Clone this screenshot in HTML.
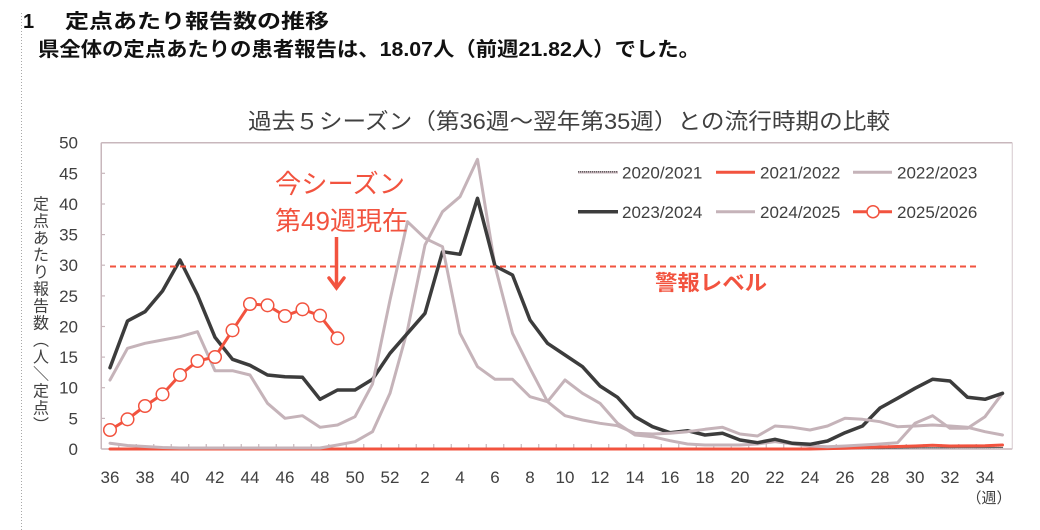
<!DOCTYPE html>
<html lang="ja">
<head>
<meta charset="utf-8">
<style>
  html,body{margin:0;padding:0;background:#fff;}
  body{width:1040px;height:530px;overflow:hidden;}
  svg{display:block;}
  text{font-family:"Liberation Sans","Noto Sans CJK JP",sans-serif;}
</style>
</head>
<body>
<svg width="1040" height="530" viewBox="0 0 1040 530" xmlns="http://www.w3.org/2000/svg">
  <rect x="0" y="0" width="1040" height="530" fill="#ffffff"/>
  <!-- left dotted margin line -->
  <line x1="21.5" y1="13" x2="21.5" y2="530" stroke="#a8a8a8" stroke-width="1" stroke-dasharray="1,2"/>

  <!-- header -->
  <text x="23" y="28" font-size="20" font-weight="bold" fill="#111">1</text>
  <text x="65" y="28" font-size="20" font-weight="bold" fill="#111" textLength="264" lengthAdjust="spacingAndGlyphs">定点あたり報告数の推移</text>
  <text x="38" y="56" font-size="20" font-weight="bold" fill="#111" textLength="662" lengthAdjust="spacingAndGlyphs">県全体の定点あたりの患者報告は、18.07人（前週21.82人）でした。</text>

  <!-- chart title -->
  <text x="248" y="129" font-size="22" fill="#404040" textLength="642" lengthAdjust="spacingAndGlyphs">過去５シーズン（第36週～翌年第35週）との流行時期の比較</text>

  <!-- plot frame -->
  <line x1="101.25" y1="142.7" x2="1012.25" y2="142.7" stroke="#c8b7bc" stroke-width="1.5"/>
  <line x1="101.25" y1="142.7" x2="101.25" y2="449" stroke="#c8b7bc" stroke-width="1.5"/>
  <line x1="101.25" y1="449" x2="1012.25" y2="449" stroke="#c8b7bc" stroke-width="1.5"/>
  <line x1="1012.25" y1="142.7" x2="1012.25" y2="449" stroke="#d6c9cd" stroke-width="1"/>

  <!-- y ticks -->
  <g stroke="#c8b7bc" stroke-width="1.2">
    <line x1="101" y1="418.4" x2="105" y2="418.4"/>
    <line x1="101" y1="387.7" x2="105" y2="387.7"/>
    <line x1="101" y1="357.1" x2="105" y2="357.1"/>
    <line x1="101" y1="326.5" x2="105" y2="326.5"/>
    <line x1="101" y1="295.9" x2="105" y2="295.9"/>
    <line x1="101" y1="265.2" x2="105" y2="265.2"/>
    <line x1="101" y1="234.6" x2="105" y2="234.6"/>
    <line x1="101" y1="204.0" x2="105" y2="204.0"/>
    <line x1="101" y1="173.3" x2="105" y2="173.3"/>
  </g>

  <!-- y labels -->
  <g font-size="17" fill="#404040" text-anchor="end">
    <text x="78" y="455">0</text>
    <text x="78" y="424.4">5</text>
    <text x="78" y="393.7">10</text>
    <text x="78" y="363.1">15</text>
    <text x="78" y="332.5">20</text>
    <text x="78" y="301.9">25</text>
    <text x="78" y="271.2">30</text>
    <text x="78" y="240.6">35</text>
    <text x="78" y="210">40</text>
    <text x="78" y="179.3">45</text>
    <text x="78" y="148.7">50</text>
  </g>

  <!-- y axis title (vertical) -->
  <g font-size="16" fill="#404040" text-anchor="middle">
    <text x="41" y="209.5">定</text>
    <text x="41" y="226.5">点</text>
    <text x="41" y="243.5">あ</text>
    <text x="41" y="260.5">た</text>
    <text x="41" y="277.5">り</text>
    <text x="41" y="294.5">報</text>
    <text x="41" y="311.5">告</text>
    <text x="41" y="328.5">数</text>
    <text x="41" y="345.5">︵</text>
    <text x="41" y="362.5">人</text>
    <text x="41" y="379.5" transform="rotate(90 41 373.5)">／</text>
    <text x="41" y="396.5">定</text>
    <text x="41" y="413.5">点</text>
    <text x="41" y="430.5">︶</text>
  </g>

  <!-- x ticks -->
  <g stroke="#c8b7bc" stroke-width="1.2">
    <path d="M118.75 449v-5M136.25 449v-5M153.75 449v-5M171.25 449v-5M188.75 449v-5M206.25 449v-5M223.75 449v-5M241.25 449v-5M258.75 449v-5M276.25 449v-5M293.75 449v-5M311.25 449v-5M328.75 449v-5M346.25 449v-5M363.75 449v-5M381.25 449v-5M398.75 449v-5M416.25 449v-5M433.75 449v-5M451.25 449v-5M468.75 449v-5M486.25 449v-5M503.75 449v-5M521.25 449v-5M538.75 449v-5M556.25 449v-5M573.75 449v-5M591.25 449v-5M608.75 449v-5M626.25 449v-5M643.75 449v-5M661.25 449v-5M678.75 449v-5M696.25 449v-5M713.75 449v-5M731.25 449v-5M748.75 449v-5M766.25 449v-5M783.75 449v-5M801.25 449v-5M818.75 449v-5M836.25 449v-5M853.75 449v-5M871.25 449v-5M888.75 449v-5M906.25 449v-5M923.75 449v-5M941.25 449v-5M958.75 449v-5M976.25 449v-5M993.75 449v-5"/>
  </g>

  <!-- x labels -->
  <g font-size="17" fill="#404040" text-anchor="middle">
    <text x="110" y="483">36</text>
    <text x="145" y="483">38</text>
    <text x="180" y="483">40</text>
    <text x="215" y="483">42</text>
    <text x="250" y="483">44</text>
    <text x="285" y="483">46</text>
    <text x="320" y="483">48</text>
    <text x="355" y="483">50</text>
    <text x="390" y="483">52</text>
    <text x="425" y="483">2</text>
    <text x="460" y="483">4</text>
    <text x="495" y="483">6</text>
    <text x="530" y="483">8</text>
    <text x="565" y="483">10</text>
    <text x="600" y="483">12</text>
    <text x="635" y="483">14</text>
    <text x="670" y="483">16</text>
    <text x="705" y="483">18</text>
    <text x="740" y="483">20</text>
    <text x="775" y="483">22</text>
    <text x="810" y="483">24</text>
    <text x="845" y="483">26</text>
    <text x="880" y="483">28</text>
    <text x="915" y="483">30</text>
    <text x="950" y="483">32</text>
    <text x="985" y="483">34</text>
  </g>
  <text x="989" y="503" font-size="15" fill="#404040" text-anchor="middle">（週）</text>

  <!-- series -->
  <g fill="none" stroke-linejoin="round" stroke-linecap="round">
    <!-- 2020/2021 -->
    <polyline stroke="#666" stroke-width="1.3" stroke-dasharray="1,1" points="110,448.5 880,448.5 915,447.8 1002.5,447.5"/>
    <!-- 2021/2022 -->
    <polyline stroke="#f2533f" stroke-width="3" points="110,449 810,449 845,448.2 880,447 915,446 932.5,445.3 950,446 985,445.8 1002.5,445"/>
    <!-- 2022/2023 -->
    <polyline stroke="#c5b3b9" stroke-width="3" points="110,443.3 127.5,445.5 145,446.5 162.5,447.5 180,448 320,448 337.5,445 355,441.7 372.5,431.7 390,393.3 407.5,330 425,245 442.5,211.7 460,196.7 477.5,159.3 495,266 512.5,333.3 530,368.3 547.5,401.7 565,380 582.5,393.3 600,403.3 617.5,423.3 635,435 652.5,436.7 670,440.7 687.5,444 705,445 722.5,445 740,445 757.5,444 775,441.7 792.5,444 810,446 827.5,446.7 845,446 862.5,445 880,444 897.5,442.7 915,423.3 932.5,415.7 950,428.3 967.5,428.3 985,416.7 1002.5,393.3"/>
    <!-- 2023/2024 -->
    <polyline stroke="#3c3c3c" stroke-width="3.5" points="110,367.7 127.5,321 145,311.7 162.5,291 180,260 197.5,295 215,337.3 232.5,359.3 250,365.3 267.5,375 285,376.7 302.5,377.3 320,399.3 337.5,390 355,390 372.5,379.3 390,353.3 407.5,333.3 425,313.3 442.5,251.7 460,254.3 477.5,198.3 495,266 512.5,275 530,320 547.5,343.3 565,355 582.5,366.7 600,386 617.5,397.3 635,416.7 652.5,426.7 670,432.7 687.5,430.7 705,435 722.5,433.3 740,440 757.5,442.7 775,439.3 792.5,443.3 810,444.3 827.5,441 845,432.7 862.5,426 880,408 897.5,398.3 915,388.3 932.5,379.3 950,381 967.5,397.3 985,399.3 1002.5,393.3"/>
    <!-- 2024/2025 -->
    <polyline stroke="#c5b3b9" stroke-width="3" points="110,380 127.5,348.3 145,343.3 162.5,340 180,336.7 197.5,331.7 215,370.7 232.5,370.7 250,375 267.5,403.3 285,418.3 302.5,415.7 320,427.3 337.5,425 355,416.7 372.5,384 390,300 407.5,221.7 425,238.3 442.5,246.7 460,333.3 477.5,366.7 495,379.3 512.5,379.3 530,396.7 547.5,401.7 565,415.7 582.5,420 600,423.3 617.5,425.7 635,433.3 652.5,434 670,433.3 687.5,431.7 705,429.3 722.5,427.3 740,434 757.5,436 775,426 792.5,427.3 810,430 827.5,426 845,418.3 862.5,419.3 880,421.7 897.5,426.7 915,426 932.5,425 950,426 967.5,427.3 985,431.7 1002.5,435"/>
  </g>

  <!-- alert level dashed line -->
  <line x1="110" y1="266.5" x2="980" y2="266.5" stroke="#f2533f" stroke-width="2" stroke-dasharray="6,4"/>
  <text x="655" y="290" font-size="21" font-weight="bold" fill="#f2533f" textLength="112" lengthAdjust="spacingAndGlyphs">警報レベル</text>

  <!-- 2025/2026 -->
  <polyline fill="none" stroke="#f2533f" stroke-width="3" stroke-linejoin="round" points="110,430 127.5,419.3 145,406 162.5,394.3 180,375 197.5,361 215,357 232.5,330.3 250,304 267.5,305.3 285,316 302.5,309.3 320,315.7 337.5,338.3"/>
  <g fill="#ffffff" stroke="#f2533f" stroke-width="1.5">
    <circle cx="110" cy="430" r="6.3"/>
    <circle cx="127.5" cy="419.3" r="6.3"/>
    <circle cx="145" cy="406" r="6.3"/>
    <circle cx="162.5" cy="394.3" r="6.3"/>
    <circle cx="180" cy="375" r="6.3"/>
    <circle cx="197.5" cy="361" r="6.3"/>
    <circle cx="215" cy="357" r="6.3"/>
    <circle cx="232.5" cy="330.3" r="6.3"/>
    <circle cx="250" cy="304" r="6.3"/>
    <circle cx="267.5" cy="305.3" r="6.3"/>
    <circle cx="285" cy="316" r="6.3"/>
    <circle cx="302.5" cy="309.3" r="6.3"/>
    <circle cx="320" cy="315.7" r="6.3"/>
    <circle cx="337.5" cy="338.3" r="6.3"/>
  </g>

  <!-- annotation -->
  <text x="275" y="193" font-size="26" fill="#f2533f" textLength="130" lengthAdjust="spacingAndGlyphs">今シーズン</text>
  <text x="275" y="230" font-size="26" fill="#f2533f" textLength="133" lengthAdjust="spacingAndGlyphs">第49週現在</text>
  <line x1="336.5" y1="237" x2="336.5" y2="286" stroke="#f2533f" stroke-width="3.5"/>
  <polyline points="329,278 336.5,288 344,278" fill="none" stroke="#f2533f" stroke-width="3.5" stroke-linecap="round" stroke-linejoin="miter"/>

  <!-- legend -->
  <g fill="none">
    <line x1="578" y1="172.3" x2="618" y2="172.3" stroke="#c5b3b9" stroke-width="2.5"/>
    <line x1="578" y1="171.8" x2="618" y2="171.8" stroke="#555" stroke-width="1.3" stroke-dasharray="1,1"/>
    <line x1="716" y1="172.3" x2="755" y2="172.3" stroke="#f2533f" stroke-width="3"/>
    <line x1="853" y1="172.3" x2="892" y2="172.3" stroke="#c5b3b9" stroke-width="3"/>
    <line x1="578" y1="211.7" x2="618" y2="211.7" stroke="#3c3c3c" stroke-width="3.5"/>
    <line x1="716" y1="211.7" x2="755" y2="211.7" stroke="#c5b3b9" stroke-width="3"/>
    <line x1="853" y1="211.7" x2="892" y2="211.7" stroke="#f2533f" stroke-width="3"/>
    <circle cx="873" cy="211.7" r="6" fill="#fff" stroke="#f2533f" stroke-width="1.5"/>
  </g>
  <g font-size="17" fill="#404040">
    <text x="622" y="178.5">2020/2021</text>
    <text x="760" y="178.5">2021/2022</text>
    <text x="897" y="178.5">2022/2023</text>
    <text x="622" y="218">2023/2024</text>
    <text x="760" y="218">2024/2025</text>
    <text x="897" y="218">2025/2026</text>
  </g>
</svg>
</body>
</html>
